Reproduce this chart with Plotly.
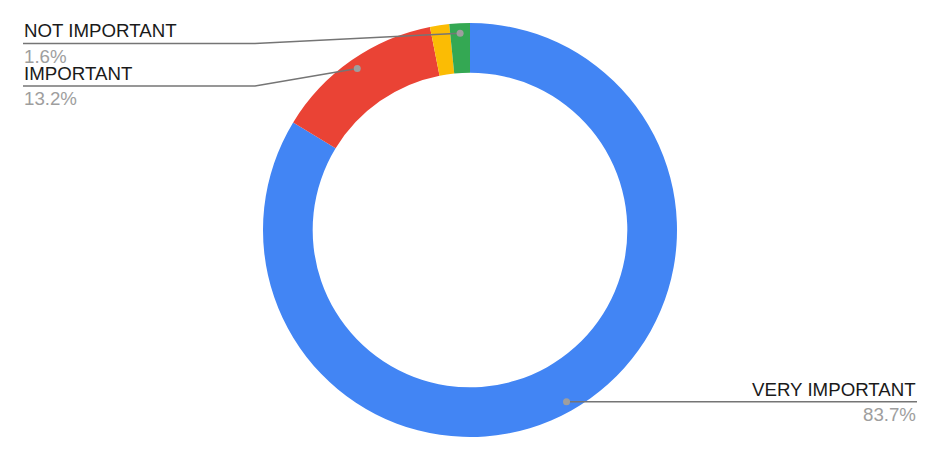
import math
import plotly.graph_objects as go

# ---- data ----
categories = ["VERY IMPORTANT", "IMPORTANT", "SOMEWHAT IMPORTANT", "NOT IMPORTANT"]
values = [83.7, 13.2, 1.5, 1.6]
colors = ["#4285F4", "#EA4335", "#FBBC04", "#34A853"]
show_label = [True, True, False, True]

# ---- layout geometry (window pixels) ----
W, H = 940, 460
OFF = 8  # page body margin
CX, CY, R = 470, 230, 207
HOLE = 0.76
DOT_R = 197
# label placement per category: (side, line_y, elbow_x, end_x)
label_layout = {
    "VERY IMPORTANT": ("right", None, None, 917),
    "IMPORTANT": ("left", 86, 255, 23),
    "NOT IMPORTANT": ("left", 43.5, 255, 23),
}

def px(x):
    return (x - OFF) / W

def py(y):
    return 1 - (y - OFF) / H

fig = go.Figure(go.Pie(
    labels=categories,
    values=values,
    marker=dict(colors=colors, line=dict(width=0)),
    hole=HOLE,
    sort=False,
    direction="clockwise",
    rotation=0,
    textinfo="none",
    hoverinfo="label+percent",
    domain=dict(x=[px(CX - R), px(CX + R)], y=[py(CY + R), py(CY - R)]),
    showlegend=False,
))

total = sum(values)
shapes = []
annotations = []
font = "Liberation Sans, Arial, sans-serif"
FS = 18.7
cum = 0
for cat, v, show in zip(categories, values, show_label):
    mid = (cum + v / 2) / total * 2 * math.pi
    cum += v
    if not show:
        continue
    dx = CX + DOT_R * math.sin(mid)
    dy = CY - DOT_R * math.cos(mid)
    side, line_y, elbow_x, end_x = label_layout[cat]
    if line_y is None:
        line_y = dy
    if elbow_x is None:
        elbow_x = dx
    path = (f"M {px(dx)} {py(dy)} L {px(elbow_x)} {py(line_y)} "
            f"L {px(end_x)} {py(line_y)}")
    shapes.append(dict(type="path", xref="paper", yref="paper", path=path,
                       line=dict(color="#757575", width=1.5)))
    shapes.append(dict(type="circle", xref="paper", yref="paper",
                       x0=px(dx - 3.5), x1=px(dx + 3.5),
                       y0=py(dy + 3.5), y1=py(dy - 3.5),
                       fillcolor="#9e9e9e", line=dict(width=0)))
    xanchor = "right" if side == "right" else "left"
    annotations.append(dict(x=px(end_x), y=py(line_y - 1), xref="paper", yref="paper",
                            text=cat, showarrow=False, xanchor=xanchor, yanchor="bottom",
                            font=dict(family=font, size=FS, color="#1a1a1a"),
                            borderpad=0))
    annotations.append(dict(x=px(end_x), y=py(line_y + 1), xref="paper", yref="paper",
                            text=f"{v / total * 100:.1f}%", showarrow=False,
                            xanchor=xanchor, yanchor="top",
                            font=dict(family=font, size=FS, color="#9e9e9e"),
                            borderpad=0))

fig.update_layout(
    width=W, height=H,
    margin=dict(l=0, r=0, t=0, b=0),
    paper_bgcolor="white",
    plot_bgcolor="white",
    shapes=shapes,
    annotations=annotations,
)

fig.write_html("out.html")
